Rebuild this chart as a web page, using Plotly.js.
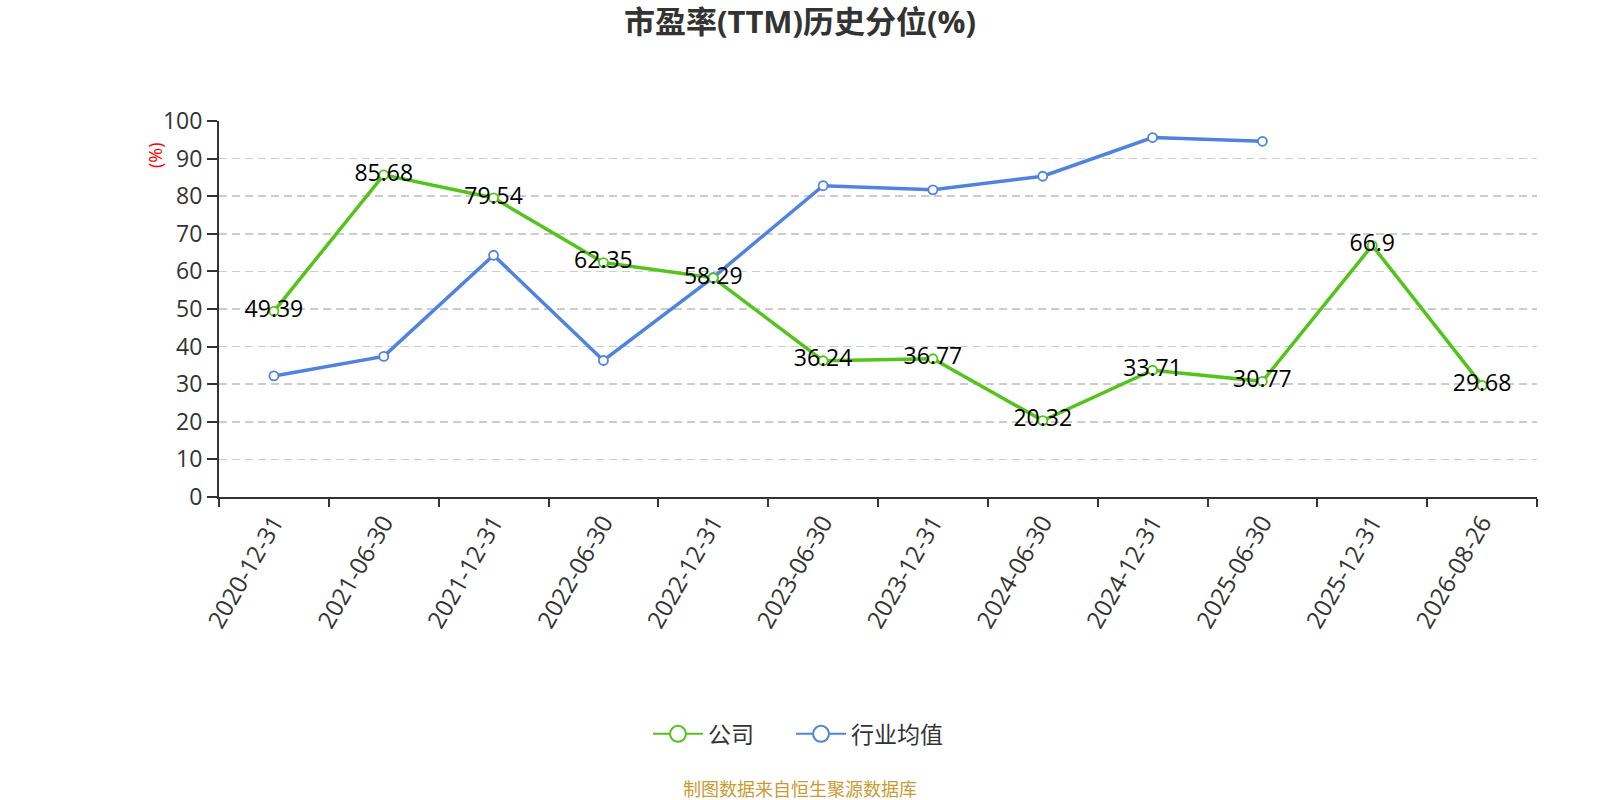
<!DOCTYPE html>
<html>
<head>
<meta charset="utf-8">
<script src="https://cdn.plot.ly/plotly-3.0.1.min.js"></script>
<style>
  html, body { margin: 0; padding: 0; background: #fff; }
  #chart { width: 1600px; height: 800px; }
</style>
</head>
<body>
<div id="chart"></div>
<script>
// ── Data ──────────────────────────────────────────────────────────────────────
const categories = [
  '2020-12-31', '2021-06-30', '2021-12-31', '2022-06-30', '2022-12-31', '2023-06-30',
  '2023-12-31', '2024-06-30', '2024-12-31', '2025-06-30', '2025-12-31', '2026-08-26',
];
const companyValues  = [49.39, 85.68, 79.54, 62.35, 58.29, 36.24, 36.77, 20.32, 33.71, 30.77, 66.9, 29.68];
const industryValues = [32.2, 37.4, 64.3, 36.3, 58.4, 82.8, 81.7, 85.3, 95.6, 94.6, null, null];
const yTicks = [0, 10, 20, 30, 40, 50, 60, 70, 80, 90, 100];

const GREEN = '#52c41a';
const BLUE  = '#4e83e0';
const FONT  = "'Open Sans', 'Noto Sans CJK SC', sans-serif";

// plot area is 1318 px wide starting at 219 px; convert page px → paper x
const PLOT_L = 219, PLOT_W = 1318;
const paperX = px => (px - PLOT_L) / PLOT_W;

// ── Helpers ───────────────────────────────────────────────────────────────────
function seriesTrace(name, values, color, withLabels) {
  return {
    type: 'scatter',
    mode: withLabels ? 'lines+markers+text' : 'lines+markers',
    x: categories, y: values, name,
    line: { color, width: 3.5 },
    marker: { size: 9, color: '#fff', line: { color, width: 1.8 } },
    text: withLabels ? values.map(v => String(v)) : undefined,
    textposition: 'middle center',
    textfont: { family: FONT, size: 23, color: '#000' },
    cliponaxis: false,
    connectgaps: false,
    showlegend: false,
  };
}

// Dummy trace with one null point, used only for a larger legend symbol.
function legendEntry(name, color, legendId) {
  return {
    type: 'scatter', x: [null], y: [null], mode: 'lines+markers', name,
    line: { color, width: 2 },
    marker: { size: 22, color: '#fff', line: { color, width: 2 } },
    showlegend: true, legend: legendId,
  };
}

function legendBox(leftPx) {
  return {
    orientation: 'h',
    x: paperX(leftPx), xanchor: 'left',
    y: -0.63, yanchor: 'middle',
    font: { family: FONT, size: 23, color: '#333' },
    itemwidth: 50,
  };
}

// ── Traces + layout ───────────────────────────────────────────────────────────
const traces = [
  seriesTrace('行业均值', industryValues, BLUE, false),
  seriesTrace('公司', companyValues, GREEN, true),
  legendEntry('公司', GREEN, 'legend'),
  legendEntry('行业均值', BLUE, 'legend2'),
];

const layout = {
  width: 1600, height: 800,
  margin: { l: PLOT_L, r: 63, t: 121, b: 303 },
  paper_bgcolor: '#fff', plot_bgcolor: '#fff',
  font: { family: FONT, color: '#333' },
  title: {
    text: '市盈率(TTM)历史分位(%)',
    font: { family: FONT, size: 31, color: '#333', weight: 'bold' },
    x: 0.5, xanchor: 'center', y: 0.972, yanchor: 'middle',
  },
  showlegend: true,
  legend: legendBox(648),
  legend2: legendBox(791),
  xaxis: {
    type: 'category',
    range: [-0.5, categories.length - 0.5],
    showline: true, linecolor: '#333', linewidth: 2,
    ticks: 'outside', tickson: 'boundaries', ticklen: 8, tickwidth: 2, tickcolor: '#333',
    showgrid: false, zeroline: false,
    tickangle: -60,
    tickfont: { family: FONT, size: 24, color: '#333' },
  },
  yaxis: {
    range: [0, 100],
    tickvals: yTicks,
    showline: true, linecolor: '#333', linewidth: 2,
    ticks: 'outside', ticklen: 10, tickwidth: 2, tickcolor: '#333',
    showgrid: true, gridcolor: '#cccccc', gridwidth: 1.5, griddash: '8px,5px',
    zeroline: false,
    tickfont: { family: FONT, size: 23, color: '#333' },
  },
  annotations: [
    {
      text: '(%)', xref: 'paper', yref: 'paper',
      x: paperX(155), y: (497 - 155) / 376,
      xanchor: 'center', yanchor: 'middle', textangle: -90,
      showarrow: false,
      font: { family: FONT, size: 18, color: '#ff0000' },
    },
    {
      text: '制图数据来自恒生聚源数据库', xref: 'paper', yref: 'paper',
      x: paperX(800), y: (497 - 789) / 376,
      xanchor: 'center', yanchor: 'middle',
      showarrow: false,
      font: { family: FONT, size: 18, color: '#cc9a30' },
    },
  ],
};

Plotly.newPlot('chart', traces, layout, { displayModeBar: false, staticPlot: true });
</script>
</body>
</html>
